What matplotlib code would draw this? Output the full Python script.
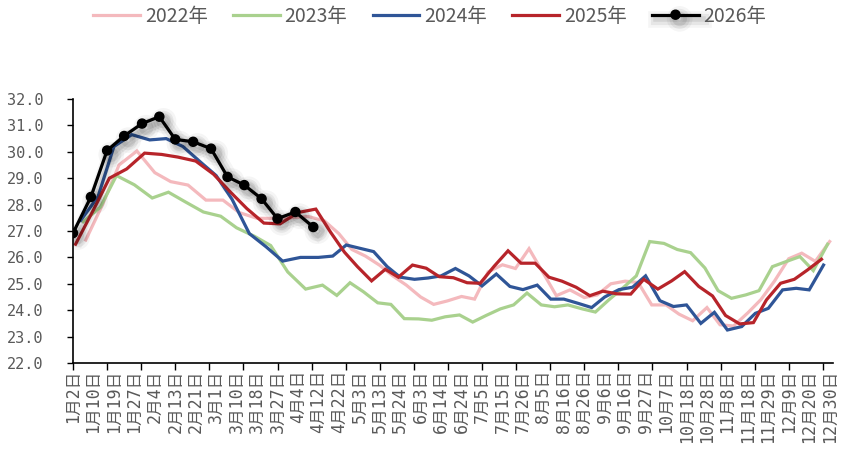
import numpy as np
import pandas as pd
import matplotlib
matplotlib.use("Agg")
import matplotlib.pyplot as plt
import matplotlib.patheffects as pe

# ---------------- data ----------------
x_labels = ["1月2日", "1月10日", "1月19日", "1月27日", "2月4日", "2月13日", "2月21日",
            "3月1日", "3月10日", "3月18日", "3月27日", "4月4日", "4月12日", "4月22日",
            "5月3日", "5月13日", "5月24日", "6月3日", "6月14日", "6月24日", "7月5日",
            "7月15日", "7月26日", "8月5日", "8月16日", "8月26日", "9月6日", "9月16日",
            "9月27日", "10月7日", "10月18日", "10月28日", "11月8日", "11月18日",
            "11月29日", "12月9日", "12月20日", "12月30日"]

series_names = ["2022年", "2023年", "2024年", "2025年", "2026年"]
series_start = ["2022-01-07", "2023-01-06", "2024-01-05", "2025-01-03", "2026-01-02"]

v2022 = [26.66, 28.0, 29.5, 30.03, 29.21, 28.87, 28.74, 28.17, 28.17, 27.7,
         27.48, 27.48, 27.5, 27.55, 27.38, 26.9, 26.3, 26.05, 25.7, 25.3,
         24.95, 24.5, 24.22, 24.35, 24.52, 24.42, 25.45, 25.72, 25.58, 26.33,
         25.4, 24.55, 24.77, 24.48, 24.58, 25.0, 25.1, 25.05, 24.2, 24.2,
         23.85, 23.6, 24.1, 23.45, 23.4, 23.9, 24.4, 25.1, 25.95, 26.16,
         25.85, 26.6]
v2023 = [27.35, 27.9, 29.1, 28.75, 28.25, 28.47, 28.1, 27.72, 27.56, 27.12,
         26.8, 26.45, 25.45, 24.8, 24.95, 24.56, 25.04, 24.7, 24.28, 24.22,
         23.68, 23.67, 23.62, 23.75, 23.82, 23.55, 23.8, 24.05, 24.2, 24.65,
         24.2, 24.13, 24.2, 24.05, 23.93, 24.39, 24.85, 25.3, 26.6, 26.53,
         26.3, 26.18, 25.6, 24.74, 24.45, 24.58, 24.74, 25.65, 25.85, 26.03,
         25.5, 26.5]
v2024 = [27.4, 28.3, 30.2, 30.65, 30.45, 30.5, 30.2, 29.6, 29.1, 28.2,
         26.9, 26.4, 25.86, 26.0, 26.0, 26.05, 26.47, 26.35, 26.22, 25.65,
         25.25, 25.17, 25.22, 25.3, 25.58, 25.3, 24.92, 25.37, 24.9, 24.78,
         24.95, 24.42, 24.42, 24.26, 24.1, 24.5, 24.78, 24.87, 25.3, 24.36,
         24.14, 24.2, 23.5, 23.92, 23.25, 23.38, 23.88, 24.07, 24.77, 24.83,
         24.77, 25.71]
v2025 = [26.5, 27.8, 29.0, 29.35, 29.95, 29.9, 29.8, 29.65, 29.15, 28.5,
         27.85, 27.3, 27.27, 27.7, 27.83, 26.95, 26.2, 25.65, 25.11, 25.55,
         25.25, 25.71, 25.59, 25.27, 25.23, 25.04, 25.02, 25.67, 26.25, 25.78,
         25.78, 25.25, 25.1, 24.87, 24.55, 24.72, 24.62, 24.61, 25.17, 24.8,
         25.11, 25.46, 24.9, 24.54, 23.8, 23.48, 23.53, 24.39, 25.02, 25.17,
         25.52, 25.93]
v2026 = [26.92, 28.29, 30.05, 30.6, 31.07, 31.33, 30.47, 30.38, 30.12, 29.05,
         28.74, 28.22, 27.47, 27.72, 27.15]

series_values = [v2022, v2023, v2024, v2025, v2026]
colors = ["#F4B9BD", "#A9D18E", "#2F5597", "#B7242A", "#000000"]

y_ticks = np.arange(22.0, 32.01, 1.0)

# ---------------- x mapping (category axis of dates) ----------------
def md_doy(m, d):
    return pd.Timestamp(2026, m, d).dayofyear

label_doy = []
for s in x_labels:
    m, rest = s.split("月")
    d = rest.rstrip("日")
    label_doy.append(md_doy(int(m), int(d)))
label_doy = np.array(label_doy, dtype=float)
label_idx = np.arange(len(x_labels), dtype=float)


def series_x(start, n):
    dates = pd.date_range(start, periods=n, freq="7D")
    doy = [md_doy(d.month, d.day) for d in dates]
    return np.interp(doy, label_doy, label_idx)


# ---------------- figure ----------------
W, H = 846, 451
fig = plt.figure(figsize=(W / 100, H / 100), dpi=100)
ax = fig.add_axes([73 / W, 1 - 363 / H, (833 - 73) / W, (363 - 99) / H])

lines = []
for name, start, vals, col in zip(series_names, series_start, series_values, colors):
    xs = series_x(start, len(vals))
    if name == "2026年":
        ln, = ax.plot(xs, vals, color=col, lw=2.3, marker="o", markersize=6.5,
                      zorder=10, solid_joinstyle="round",
                      path_effects=[
                          pe.SimpleLineShadow(offset=(3, -3), shadow_color="black", alpha=0.04, linewidth=12),
                          pe.SimpleLineShadow(offset=(3, -3), shadow_color="black", alpha=0.06, linewidth=8),
                          pe.SimpleLineShadow(offset=(3, -3), shadow_color="black", alpha=0.08, linewidth=4),
                          pe.Normal()])
    else:
        ln, = ax.plot(xs, vals, color=col, lw=2.3, solid_joinstyle="miter")
    lines.append(ln)

ax.set_xlim(0, (833 - 73) / 20.45)
ax.set_ylim(22, 32)

# y axis
ax.set_yticks(y_ticks)
ax.set_yticklabels([f"{v:.1f}" for v in y_ticks], family="DejaVu Sans Mono",
                   fontsize=11, color="#595959")
ax.tick_params(axis="y", direction="out", length=4, width=1, pad=17, color="black")

# x axis: ticks every 5/3 label step, labels at label positions
ax.xaxis.remove_overlapping_locs = False
ax.set_xticks(np.arange(0, 37.0, 5 / 3))
ax.set_xticklabels([])
ax.tick_params(axis="x", which="major", direction="out", length=5, width=1, color="black")
ax.set_xticks(label_idx, minor=True)
ax.set_xticklabels(x_labels, minor=True, rotation=90, fontsize=12, color="#595959",
                   family=["DejaVu Sans Mono", "Noto Sans CJK SC"], va="top", ha="center")
ax.tick_params(axis="x", which="minor", length=0, pad=5)

for sp in ["top", "right"]:
    ax.spines[sp].set_visible(False)
for sp in ["left", "bottom"]:
    ax.spines[sp].set_color("black")
    ax.spines[sp].set_linewidth(1.2)

leg = fig.legend(lines, series_names, loc="center", ncol=5,
                 bbox_to_anchor=(430 / W, 1 - 16 / H), frameon=False,
                 prop={"family": ["Noto Sans CJK SC"], "size": 14},
                 handlelength=2.4, handletextpad=0.25, columnspacing=1.3)
for t in leg.get_texts():
    t.set_color("#595959")

fig.savefig("out.png", dpi=100)
